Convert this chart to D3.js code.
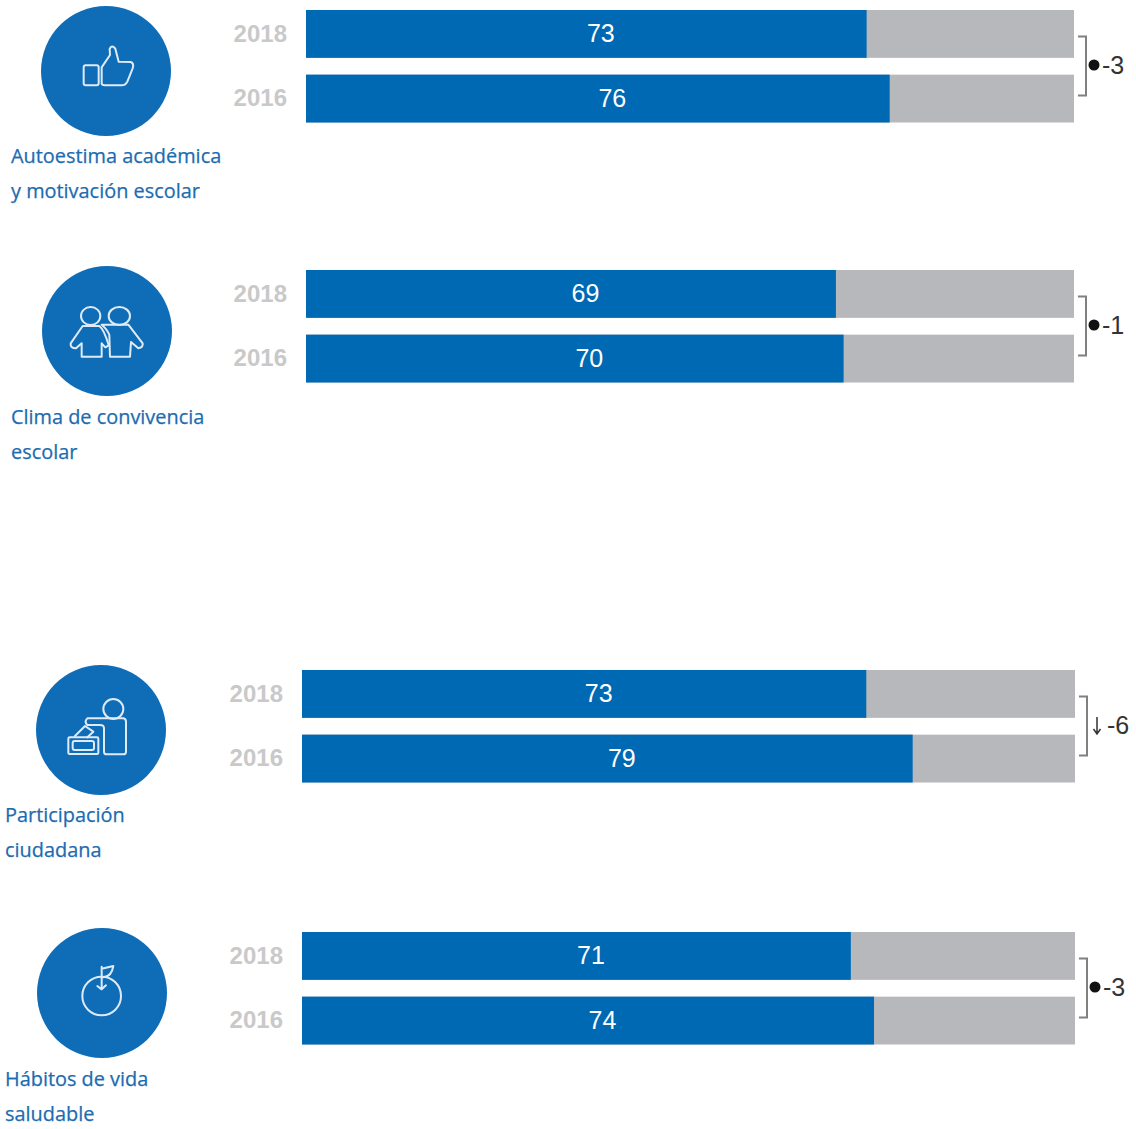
<!DOCTYPE html>
<html lang="es">
<head>
<meta charset="utf-8">
<script src="https://cdn.jsdelivr.net/npm/d3@7"></script>
<style>
    html, body { margin: 0; padding: 0; background: #fff; }
    svg { display: block; }
    .year text { font: bold 24px "Liberation Sans", Arial, sans-serif; fill: #c9c9c9; }
    .value { font: 25px "Liberation Sans", Arial, sans-serif; fill: #fff; text-anchor: middle; }
    .change { font: 25px "Liberation Sans", Arial, sans-serif; fill: #333; }
    .name { font: 19.9px "Open Sans", sans-serif; fill: #1c6cb0; stroke: #1c6cb0; stroke-width: 0.25; }
    .icon * { fill: none; stroke: #dfeaf5; stroke-width: 6; stroke-linejoin: round; stroke-linecap: round; }
</style>
</head>
<body>
<div id="container"></div>
<script>
// Values
const indicators = [
    ["Autoestima académica", "y motivación escolar"],
    ["Clima de convivencia", "escolar"],
    ["Participación", "ciudadana"],
    ["Hábitos de vida", "saludable"]
]
const years = ["2018", "2016"]
const values2018 = [73, 69, 73, 71]
const values2016 = [76, 70, 79, 74]
const changes = [-3, -1, -6, -3]
const significant = [false, false, true, false]

// Layout of each block
const panelTop = [10, 270, 670, 932]
const barLeft = [306, 306, 302, 302]
const barRight = [1074, 1074, 1075, 1075]
const iconCx = [106, 107, 101, 102]
const iconCy = [71, 331, 730, 993]
const iconOrigin = [[0, 0], [0, 260], [0, 660], [0, 920]]
const nameX = [11, 11, 5, 5]
const nameY = [163, 424, 822, 1086]
const bracketX = [1086, 1086, 1087, 1087]
const panelHeight = 112.5
const iconRadius = 65

// Icon outlines, drawn at 3x and scaled down
const iconShapes = [
    g => {
        g.append("rect").attr("x", 251).attr("y", 196).attr("width", 45).attr("height", 60).attr("rx", 6)
        g.append("path").attr("d", "M305,250 L305,202 L330,165 L329,147 Q335,133 346,146 L356,185 L392,186 Q403,190 398,205 L382,245 Q377,256 365,256 L315,256 Q305,256 305,250Z")
    },
    g => {
        g.append("ellipse").attr("cx", 272).attr("cy", 168).attr("rx", 29).attr("ry", 27)
        g.append("ellipse").attr("cx", 358).attr("cy", 168).attr("rx", 32).attr("ry", 27)
        g.append("path").attr("d", "M248,198 L298,198 Q312,208 326,256 L316,262 L305,250 L305,290 L245,290 L245,250 L228,265 Q210,264 212,250Z")
        g.append("path").attr("d", "M305,194 L385,194 L428,250 Q430,262 415,265 L393,246 L390,290 L330,290 L328,225 Q322,208 305,194Z")
    },
    g => {
        g.append("circle").attr("cx", 340).attr("cy", 147).attr("r", 30)
        g.append("path").attr("d", "M262,175 L370,175 Q378,177 378,185 L378,275 Q378,283 370,283 L320,283 Q312,283 312,275 L312,205 Q312,195 300,195 L262,195 Q252,185 262,175Z")
        g.append("rect").attr("x", 205).attr("y", 232).attr("width", 90).attr("height", 50).attr("rx", 4)
        g.append("rect").attr("x", 218).attr("y", 243).attr("width", 64).attr("height", 27).attr("rx", 6)
        g.append("path").attr("d", "M225,228 L255,198 L280,215 L262,232")
    },
    g => {
        g.append("circle").attr("cx", 305).attr("cy", 228).attr("r", 58)
        g.append("path").attr("d", "M305,140 L305,206 M292,198 L305,208 L318,196 M305,146 L340,138 Q335,170 310,172")
    }
]

const svg = d3.select("#container")
    .append("svg")
    .attr("width", 1136)
    .attr("height", 1129)

// The third circle is cut off at the bottom in the original
svg.append("clipPath")
    .attr("id", "icon-clip")
    .append("rect")
    .attr("x", 0)
    .attr("y", 655)
    .attr("width", 300)
    .attr("height", 140)

indicators.forEach((name, i) => {
    const panel = svg.append("g")
    const rows = [
        { year: years[0], value: values2018[i] },
        { year: years[1], value: values2016[i] }
    ]

    const x = d3.scaleLinear()
        .domain([0, 100])
        .range([barLeft[i], barRight[i]])

    const y = d3.scaleBand()
        .domain(years)
        .range([panelTop[i], panelTop[i] + panelHeight])
        .paddingInner(0.26)

    // Grey remainder up to 100, blue bar on top
    panel.selectAll("rect.rest")
        .data(rows)
        .join("rect")
        .attr("class", "rest")
        .attr("x", x(0))
        .attr("y", d => y(d.year))
        .attr("width", x(100) - x(0))
        .attr("height", y.bandwidth())
        .attr("fill", "#b7b8bb")

    panel.selectAll("rect.bar")
        .data(rows)
        .join("rect")
        .attr("class", "bar")
        .attr("x", x(0))
        .attr("y", d => y(d.year))
        .attr("width", d => x(d.value) - x(0))
        .attr("height", y.bandwidth())
        .attr("fill", "#0069b4")

    // Labels sit a little right of the bar's centre
    panel.selectAll("text.value")
        .data(rows)
        .join("text")
        .attr("class", "value")
        .attr("x", d => (x(0) + x(d.value)) / 2 + 14.5)
        .attr("y", d => y(d.year) + y.bandwidth() / 2 - 0.8)
        .attr("dy", "0.36em")
        .text(d => d.value)

    panel.append("g")
        .attr("class", "year")
        .attr("transform", `translate(${x(0)},0)`)
        .call(d3.axisLeft(y).tickSize(0).tickPadding(19))
        .call(g => g.select(".domain").remove())

    // Bracket and change
    const bx = bracketX[i]
    const by0 = panelTop[i] + 26.5
    const by1 = panelTop[i] + 85.5
    panel.append("path")
        .attr("d", `M${bx - 8},${by0} H${bx} V${by1} H${bx - 8}`)
        .attr("fill", "none")
        .attr("stroke", "#808080")
        .attr("stroke-width", 2)

    const my = (by0 + by1) / 2
    if (significant[i]) {
        panel.append("path")
            .attr("d", `M${bx + 10},${my - 9} V${my + 8} M${bx + 6.5},${my + 3} L${bx + 10},${my + 8} L${bx + 13.5},${my + 3}`)
            .attr("fill", "none")
            .attr("stroke", "#333")
            .attr("stroke-width", 1.5)
    } else {
        panel.append("circle")
            .attr("cx", bx + 8)
            .attr("cy", my - 1)
            .attr("r", 5.5)
            .attr("fill", "#111")
    }
    panel.append("text")
        .attr("class", "change")
        .attr("x", significant[i] ? bx + 20 : bx + 16)
        .attr("y", my - 1.5)
        .attr("dy", "0.36em")
        .text(changes[i])

    // Icon
    const badge = panel.append("g")
    if (i === 2) badge.attr("clip-path", "url(#icon-clip)")
    badge.append("circle")
        .attr("cx", iconCx[i])
        .attr("cy", iconCy[i])
        .attr("r", iconRadius)
        .attr("fill", "#0f6db8")
    const icon = panel.append("g")
        .attr("class", "icon")
        .attr("transform", `translate(${iconOrigin[i][0]},${iconOrigin[i][1]}) scale(${1 / 3})`)
    iconShapes[i](icon)

    // Indicator name on two lines
    panel.selectAll("text.name")
        .data(name)
        .join("text")
        .attr("class", "name")
        .attr("x", nameX[i])
        .attr("y", (d, k) => nameY[i] + k * 35)
        .text(d => d)
})
</script>
</body>
</html>
